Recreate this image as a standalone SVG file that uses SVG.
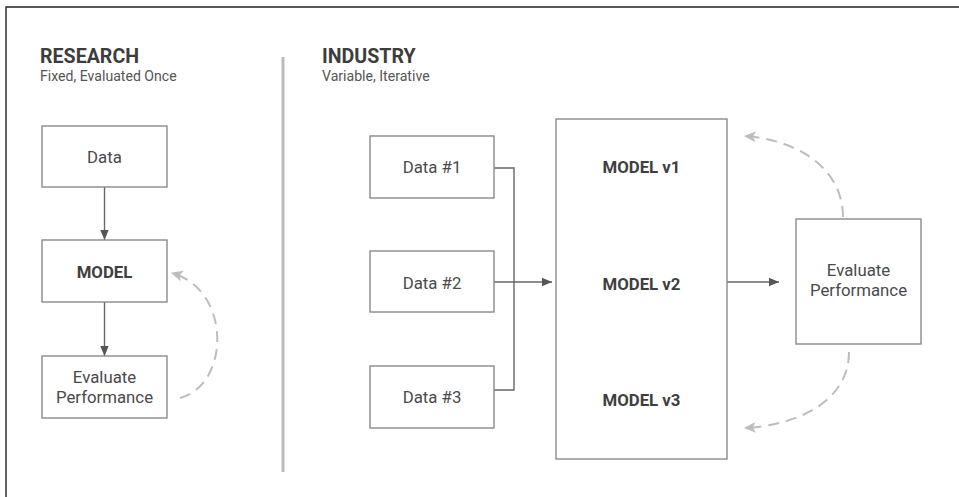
<svg xmlns="http://www.w3.org/2000/svg" width="959" height="497" viewBox="0 0 959 497">
  <style>
    .box { fill: #fff; stroke: #8a8a8a; stroke-width: 1.4; }
    .txt { font-family: Roboto, "Liberation Sans", sans-serif; font-size: 16.8px; fill: #4a4a4a; text-anchor: middle; }
    .bold { font-weight: bold; fill: #3f3f3f; }
    .head { font-family: Roboto, "Liberation Sans", sans-serif; font-size: 19.6px; font-weight: bold; fill: #3d3d3d; }
    .sub { font-family: Roboto, "Liberation Sans", sans-serif; font-size: 14.1px; fill: #555; }
    .link { fill: none; stroke: #666; stroke-width: 1.4; }
    .loop { fill: none; stroke: #bdbdbd; stroke-width: 2; stroke-dasharray: 11 7; }
  </style>
  <defs>
    <marker id="arrow" viewBox="0 0 10 10" refX="10" refY="5" markerWidth="10" markerHeight="10" markerUnits="userSpaceOnUse" orient="auto">
      <path d="M0,0.8 L10,5 L0,9.2 Z" fill="#555"/>
    </marker>
    <marker id="arrowLight" viewBox="0 0 10 10" refX="9" refY="5" markerWidth="12" markerHeight="12" markerUnits="userSpaceOnUse" orient="auto">
      <path d="M0,0.5 L10,5 L0,9.5 L2.5,5 Z" fill="#bdbdbd"/>
    </marker>
  </defs>

  <!-- frame edges -->
  <polyline points="6,497 6,7 959,7" fill="none" stroke="#222" stroke-width="1.4"/>

  <!-- section divider -->
  <line x1="283" y1="57" x2="283" y2="472" stroke="#bcbcbc" stroke-width="3"/>

  <!-- section headings -->
  <g id="research-heading">
    <text class="head" x="40" y="63">RESEARCH</text>
    <text class="sub" x="40" y="81">Fixed, Evaluated Once</text>
  </g>
  <g id="industry-heading">
    <text class="head" x="322" y="63">INDUSTRY</text>
    <text class="sub" x="322" y="81">Variable, Iterative</text>
  </g>

  <!-- connectors -->
  <g id="connectors">
    <line class="link" x1="104.5" y1="187" x2="104.5" y2="240" marker-end="url(#arrow)"/>
    <line class="link" x1="104.5" y1="302" x2="104.5" y2="356" marker-end="url(#arrow)"/>
    <path class="loop" d="M180,398 C230,385 232,290 172,273" marker-end="url(#arrowLight)"/>

    <polyline class="link" points="494,168 514,168 514,390 494,390"/>
    <line class="link" x1="494" y1="282" x2="552" y2="282" marker-end="url(#arrow)"/>
    <line class="link" x1="727" y1="282" x2="779" y2="282" marker-end="url(#arrow)"/>
    <path class="loop" d="M843,217 C843,170 800,140 745,136" marker-end="url(#arrowLight)"/>
    <path class="loop" d="M849,352 C849,400 800,425 745,428" marker-end="url(#arrowLight)"/>
  </g>

  <!-- research pipeline -->
  <g id="r-data">
    <rect class="box" x="42" y="126" width="125" height="61"/>
    <text class="txt" x="104.5" y="163">Data</text>
  </g>
  <g id="r-model">
    <rect class="box" x="42" y="240" width="125" height="62"/>
    <text class="txt bold" x="104.5" y="278">MODEL</text>
  </g>
  <g id="r-evaluate">
    <rect class="box" x="42" y="356" width="125" height="62"/>
    <text class="txt" x="104.5" y="383">Evaluate</text>
    <text class="txt" x="104.5" y="403">Performance</text>
  </g>

  <!-- industry pipeline -->
  <g id="i-data1">
    <rect class="box" x="370" y="136" width="124" height="62"/>
    <text class="txt" x="432" y="173">Data #1</text>
  </g>
  <g id="i-data2">
    <rect class="box" x="370" y="251" width="124" height="61"/>
    <text class="txt" x="432" y="289">Data #2</text>
  </g>
  <g id="i-data3">
    <rect class="box" x="370" y="366" width="124" height="62"/>
    <text class="txt" x="432" y="403">Data #3</text>
  </g>
  <g id="i-models">
    <rect class="box" x="556" y="119" width="171" height="340"/>
    <text class="txt bold" x="641.5" y="173">MODEL v1</text>
    <text class="txt bold" x="641.5" y="289.5">MODEL v2</text>
    <text class="txt bold" x="641.5" y="406">MODEL v3</text>
  </g>
  <g id="i-evaluate">
    <rect class="box" x="796" y="219" width="125" height="125"/>
    <text class="txt" x="858.5" y="276">Evaluate</text>
    <text class="txt" x="858.5" y="296">Performance</text>
  </g>
</svg>
